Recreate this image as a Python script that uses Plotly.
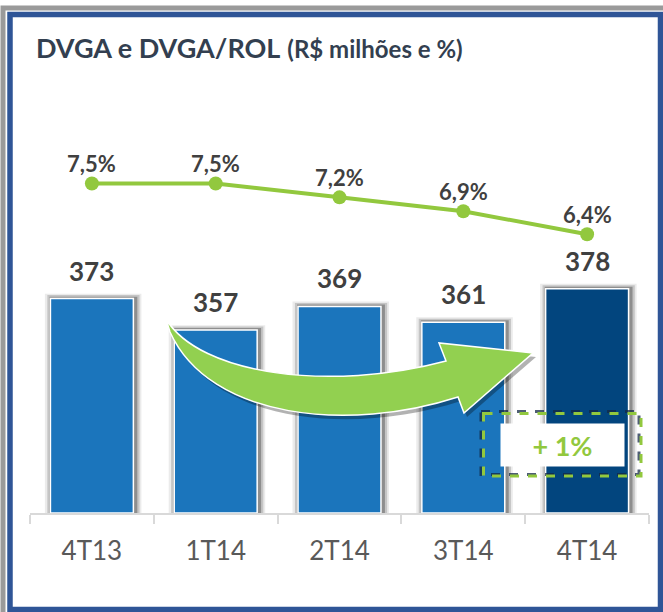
import plotly.graph_objects as go

categories = ["4T13", "1T14", "2T14", "3T14", "4T14"]
dvga = [373, 357, 369, 361, 378]
dvga_rol = [7.5, 7.5, 7.2, 6.9, 6.4]
dvga_rol_labels = ["7,5%", "7,5%", "7,2%", "6,9%", "6,4%"]
growth_label = "+ 1%"
title_main = "DVGA e DVGA/ROL"
title_sub = "(R$ milhões e %)"

W, H = 663, 612
L, R, T, B = 30, 649, 100, 513
PW, PH = R - L, B - T
YMIN = 264

def px(x):
    return (x - L) / PW

def py(y):
    return (B - y) / PH

BAR = "#1B75BC"
BAR_LAST = "#02457E"
GREEN = "#92C83E"
ARROW = "#92D050"
TXT = "#404040"
FONT = "Lato, 'Open Sans', sans-serif"

bar_colors = [BAR] * (len(dvga) - 1) + [BAR_LAST]

fig = go.Figure()

# soft shadows behind bars
for w, off, op, up in [(0.78, -0.38, 0.08, 2.5), (0.745, -0.36, 0.16, 1.8), (0.71, -0.343, 0.28, 1.0)]:
    fig.add_trace(go.Bar(
        x=categories, y=[v - YMIN + up for v in dvga], base=YMIN, width=w, offset=off,
        marker=dict(color=f"rgba(0,0,0,{op})", line=dict(width=0)),
        hoverinfo="skip", showlegend=False,
    ))

fig.add_trace(go.Bar(
    x=categories, y=[v - YMIN for v in dvga], base=YMIN, width=0.67,
    marker=dict(color=bar_colors, line=dict(color="white", width=1.5)),
    showlegend=False,
))

fig.add_trace(go.Scatter(
    x=categories, y=dvga_rol, yaxis="y2", mode="lines+markers",
    line=dict(color=GREEN, width=4),
    marker=dict(color=GREEN, size=14),
    showlegend=False,
))

ann = []
for c, v in zip(categories, dvga):
    ann.append(dict(x=c, y=v, xref="x", yref="y", text=f"<b>{v}</b>",
                    showarrow=False, yanchor="middle", yshift=28,
                    font=dict(family=FONT, size=26, color=TXT)))
for c, v, t in zip(categories, dvga_rol, dvga_rol_labels):
    ann.append(dict(x=c, y=v, xref="x", yref="y2", text=f"<b>{t}</b>",
                    showarrow=False, yanchor="middle", yshift=20,
                    font=dict(family=FONT, size=22, color=TXT)))

ann.append(dict(x=px(34), y=py(47), xref="paper", yref="paper",
                xanchor="left", yanchor="middle", showarrow=False,
                text=f"<b>{title_main}</b> <b><span style='font-size:24px'>{title_sub}</span></b>",
                font=dict(family=FONT, size=27, color="#333F50")))

ann.append(dict(x=px(562.5), y=py(445), xref="paper", yref="paper",
                xanchor="center", yanchor="middle",
                showarrow=False, text=f"<b>{growth_label}</b>",
                width=123, height=42, bgcolor="white", borderpad=0,
                font=dict(family=FONT, size=27, color=GREEN)))

# arrow path (decorative)
def pth(points_cmds):
    out = []
    for cmd, pts in points_cmds:
        coords = " ".join(f"{px(x):.5f},{py(y):.5f}" for x, y in pts)
        out.append(f"{cmd}{coords}")
    return " ".join(out) + " Z"

def arrow_path(dx=0, dy=0):
    def s(pts):
        return [(x + dx, y + dy) for x, y in pts]
    return pth([
        ("M", s([(166, 319)])),
        ("C", s([(200, 375), (330, 392), (446, 361)])),
        ("L", s([(439, 343)])),
        ("L", s([(533, 353)])),
        ("L", s([(464, 413)])),
        ("L", s([(458, 397)])),
        ("C", s([(350, 432), (210, 420), (170, 332)])),
    ])

shapes = [
    # frame
    dict(type="rect", xref="paper", yref="paper", x0=px(3), x1=px(700), y0=py(8), y1=py(700),
         line=dict(color="#9A9A9A", width=5), layer="above"),
    dict(type="rect", xref="paper", yref="paper", x0=px(10), x1=px(660.5), y0=py(14.5), y1=py(609.5),
         line=dict(color="#2F5597", width=5.5), layer="above"),
    # arrow shadow and arrow
    dict(type="path", xref="paper", yref="paper", path=arrow_path(3, 4),
         fillcolor="rgba(0,0,0,0.30)", line=dict(width=0), layer="above"),
    dict(type="path", xref="paper", yref="paper", path=arrow_path(),
         fillcolor=ARROW, line=dict(color="white", width=1.5), layer="above"),
    # dashed box
    dict(type="rect", xref="paper", yref="paper", x0=px(481), x1=px(639), y0=py(411.5), y1=py(474.5),
         line=dict(color="rgba(20,40,70,0.75)", width=3, dash="dash"), layer="above"),
    dict(type="rect", xref="paper", yref="paper", x0=px(483.5), x1=px(641), y0=py(413.5), y1=py(476),
         line=dict(color=GREEN, width=3, dash="dash"), layer="above"),
]

fig.update_layout(
    width=W, height=H,
    margin=dict(l=L, r=W - R, t=T, b=H - B, pad=0),
    paper_bgcolor="white", plot_bgcolor="white",
    barmode="overlay",
    xaxis=dict(showgrid=False, showline=True, linecolor="#D9D9D9", linewidth=1.5,
               ticks="outside", tickson="boundaries", ticklen=9, tickcolor="#D9D9D9",
               tickwidth=1.5, ticklabelstandoff=14,
               tickfont=dict(family=FONT, size=26, color="#595959"),
               range=[-0.5, 4.5]),
    yaxis=dict(range=[YMIN, YMIN + PH / 1.967], visible=False, showgrid=False),
    yaxis2=dict(range=[6.4 - (B - 234.3) / 46.2, 7.5 + (183.5 - T) / 46.2],
                overlaying="y", visible=False, showgrid=False),
    annotations=ann,
    shapes=shapes,
)

fig.write_html("out.html", config={"displayModeBar": False},
               post_script="document.body.style.margin='0';document.body.style.overflow='hidden';")
